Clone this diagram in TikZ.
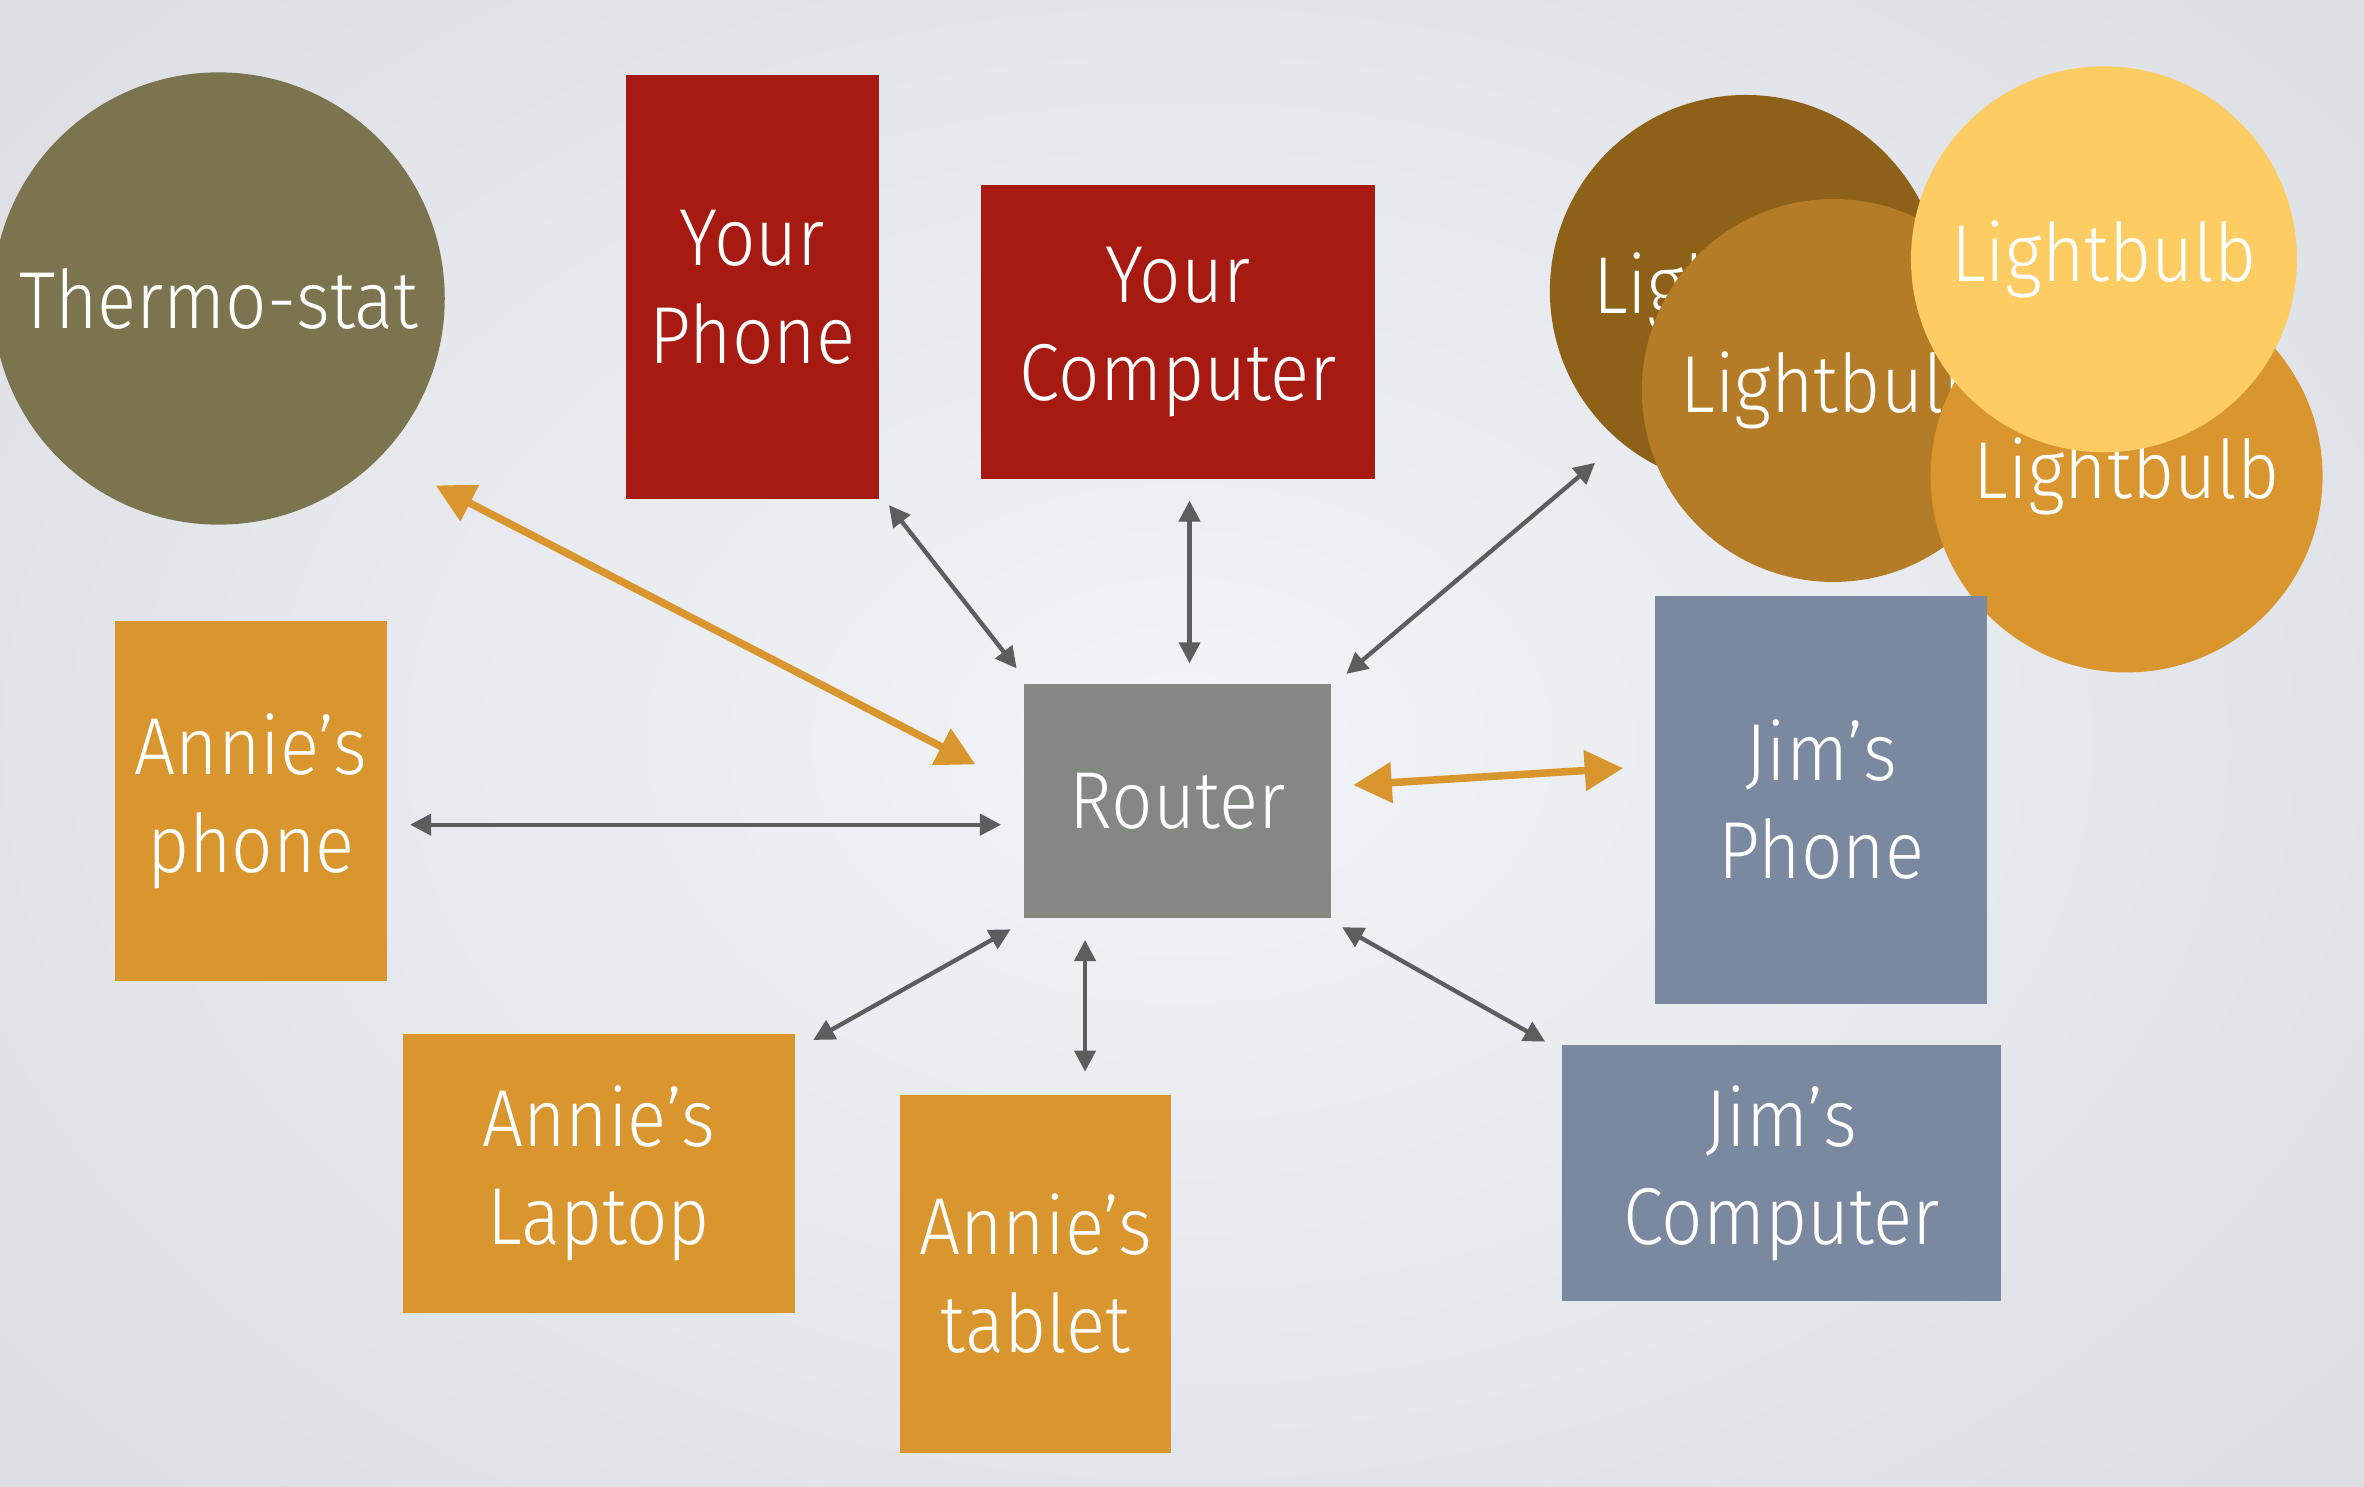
\documentclass[tikz,border=0pt]{standalone}
\usepackage{fontspec}
\IfFontExistsTF{Fira Sans Light}{\setmainfont{Fira Sans Light}[FakeStretch=0.9]}{\setmainfont{Fira Sans}[FakeStretch=0.9]}
\usetikzlibrary{arrows.meta}
\definecolor{bgin}{HTML}{F2F4F7}
\definecolor{bgout}{HTML}{DCE0E5}
\definecolor{dred}{HTML}{A71A12}
\definecolor{olive}{HTML}{7B744F}
\definecolor{orng}{HTML}{D9962F}
\definecolor{rgray}{HTML}{838883}
\definecolor{slate}{HTML}{7A88A0}
\definecolor{dbrown}{HTML}{8E6119}
\definecolor{mbrown}{HTML}{B47C26}
\definecolor{ylw}{HTML}{FDCD63}
\definecolor{agray}{HTML}{5A5E5D}
\tikzset{
  lbl/.style={text=white, align=center, inner sep=0pt, font=\fontsize{30.5}{37}\selectfont},
  boxnode/.style={lbl, rectangle},
  bubble/.style={lbl, circle},
  garrow/.style={draw=agray, line width=0.57mm,
    {Triangle[length=2.8mm,width=2.8mm]}-{Triangle[length=2.8mm,width=2.8mm]}},
  oarrow/.style={draw=orng, line width=1mm,
    {Triangle[length=5.1mm,width=5.2mm]}-{Triangle[length=5.1mm,width=5.2mm]}}
}
\begin{document}
\begin{tikzpicture}[x=0.2mm, y=-0.2mm]
\useasboundingbox (0,0) rectangle (1568,986);
\clip (0,0) rectangle (1568,986);
\shade[inner color=bgin, outer color=bgout] (-200,-200) rectangle (1768,1186);

% thermostat
\node[bubble, fill=olive, minimum size=60mm] (thermo) at (145,198) {Thermo-stat};

% top boxes
\node[boxnode, fill=dred, minimum width=33.6mm, minimum height=56.2mm] (yphone) at (499,190.5) {Your\\Phone};
\node[boxnode, fill=dred, minimum width=52.2mm, minimum height=39mm] (ycomp) at (781.5,220.5) {Your\\Computer};

% lightbulbs
\node[bubble, fill=dbrown, minimum size=52mm] (lb1) at (1158,193) {Lightbulb};
\node[bubble, fill=mbrown, minimum size=50.8mm] (lb2) at (1216,259) {Lightbulb};
\node[bubble, fill=orng, minimum size=52mm] (lb3) at (1410.5,316) {Lightbulb};
\node[bubble, fill=ylw, minimum size=51.2mm] (lb4) at (1395.5,172) {Lightbulb};

% middle row
\node[boxnode, fill=orng, minimum width=36.2mm, minimum height=47.8mm] (aphone) at (166.5,531.5) {Annie’s\\phone};
\node[boxnode, fill=rgray, minimum width=40.8mm, minimum height=31mm] (router) at (781,531.5) {Router};
\node[boxnode, fill=slate, minimum width=44mm, minimum height=54.2mm] (jphone) at (1208,530.5) {Jim’s\\Phone};

% bottom row
\node[boxnode, fill=orng, minimum width=52mm, minimum height=37mm] (alaptop) at (397,778.5) {Annie’s\\Laptop};
\node[boxnode, fill=orng, minimum width=36mm, minimum height=47.6mm] (atablet) at (687,845) {Annie’s\\tablet};
\node[boxnode, fill=slate, minimum width=58.2mm, minimum height=34mm] (jcomp) at (1181.5,778) {Jim’s\\Computer};

% arrow end points
\coordinate (thermoE) at (289,322);
\coordinate (routerThermo) at (647,507);
\coordinate (yphoneE) at (589.6,335);
\coordinate (routerYphone) at (674.3,443.3);
\coordinate (ycompE) at (789,332);
\coordinate (routerYcomp) at (789,440);
\coordinate (lbE) at (1058,307);
\coordinate (routerLb) at (893,447);
\coordinate (aphoneE) at (272,547);
\coordinate (routerAphone) at (664,547);
\coordinate (routerJphone) at (897.6,520.7);
\coordinate (jphoneE) at (1076.6,509.5);
\coordinate (routerLaptop) at (670.3,616.4);
\coordinate (alaptopE) at (539.4,689.8);
\coordinate (routerTablet) at (719.7,623.5);
\coordinate (atabletE) at (719.7,710.8);
\coordinate (routerJcomp) at (890.2,615);
\coordinate (jcompE) at (1024.9,690.9);

\draw[oarrow] (thermoE) -- (routerThermo);
\draw[garrow] (yphoneE) -- (routerYphone);
\draw[garrow] (ycompE) -- (routerYcomp);
\draw[garrow] (lbE) -- (routerLb);
\draw[garrow] (aphoneE) -- (routerAphone);
\draw[oarrow] (routerJphone) -- (jphoneE);
\draw[garrow] (routerLaptop) -- (alaptopE);
\draw[garrow] (routerTablet) -- (atabletE);
\draw[garrow] (routerJcomp) -- (jcompE);
\end{tikzpicture}
\end{document}
